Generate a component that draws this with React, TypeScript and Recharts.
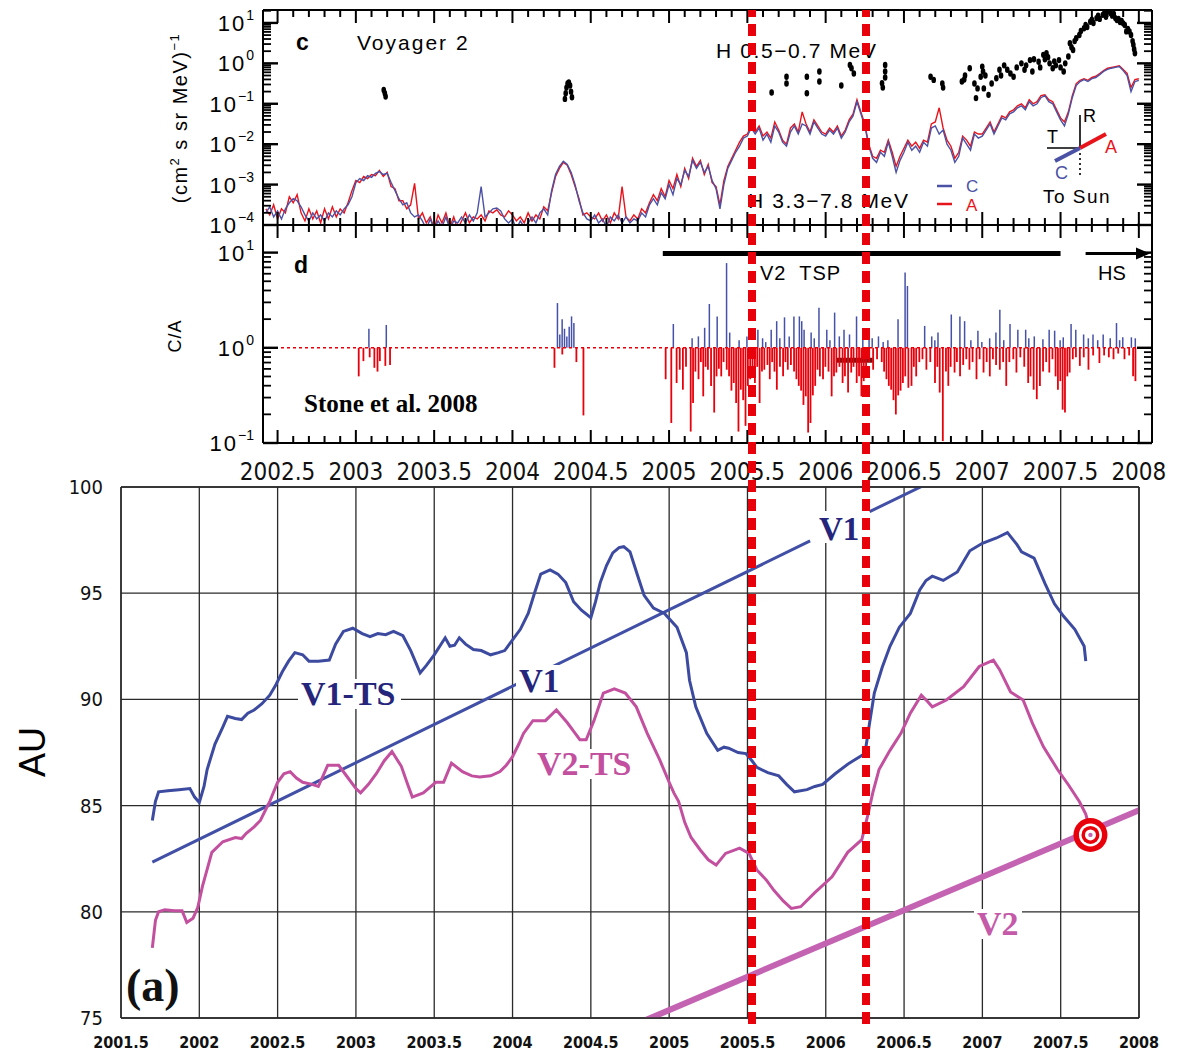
import React from 'react';
import { ComposedChart, Line, Scatter, Bar, XAxis, YAxis, ReferenceLine, CartesianGrid } from 'recharts';

const PAGE_W = 1184;
const PAGE_H = 1051;

const SANS = "'Liberation Sans', Arial, sans-serif";
const NARROW = "'Liberation Sans Narrow', 'DejaVu Sans Condensed', 'Liberation Sans', sans-serif";
const SERIF = "'Liberation Serif', 'Times New Roman', serif";

// Panel c: H 3.3-7.8 MeV intensity, log10 values, one sample every 0.025 yr from 2002.425
const SAMPLE_START = 2002.425;
const SAMPLE_STEP = 0.025;

// C telescope (blue)
const cLog = [
  // 2002.425 - 2002.975
  -3.7, -3.55, -3.8, -3.65, -3.85, -3.6, -3.45, -3.35, -3.4, -3.55, -3.75, -3.9, -3.7, -3.85, -3.75, -3.9, -3.7, -3.8, -3.65, -3.75, -3.6, -3.5, -3.3,
  // 2003
  -2.95, -2.85, -2.9, -2.78, -2.82, -2.72, -2.68, -2.75, -2.72, -2.95, -3.15, -3.35, -3.5, -3.45, -3.7, -3.8, -3.75, -3.9, -4.1, -3.85,
  -4.1, -3.9, -4.05, -3.8, -4.1, -3.9, -3.95, -3.8, -3.95, -3.75, -3.9, -3.7, -3.05, -3.8, -3.7, -3.6, -3.58, -3.65, -3.85, -3.95,
  // 2004
  -3.85, -4.1, -3.9, -4.05, -3.95, -3.8, -3.95, -3.7, -3.6, -3.75, -3.15, -2.75, -2.55, -2.42, -2.5, -2.7, -3.0, -3.4, -3.7, -3.85,
  -3.9, -3.75, -3.95, -3.85, -4.05, -3.8, -3.9, -3.75, -3.95, -3.8, -3.95, -3.85, -3.9, -3.7, -3.8, -3.5, -3.35, -3.5, -3.2, -3.35,
  // 2005
  -3.0, -3.25, -2.85, -3.0, -2.65, -2.8, -2.4, -2.6, -2.45, -2.7, -2.55, -2.9, -3.1, -3.6, -3.0, -2.6, -2.4, -2.2, -2.05, -1.85,
  -1.8, -1.6, -1.75, -1.6, -1.9, -1.75, -1.95, -1.55, -1.7, -1.95, -2.05, -1.7, -1.55, -1.75, -1.5, -1.55, -1.75, -1.45, -1.6, -1.75,
  // 2006
  -1.8, -1.65, -1.75, -1.6, -1.85, -1.7, -1.45, -1.3, -0.95, -1.25, -1.55, -2.05, -2.35, -2.45, -2.2, -2.3, -1.95, -2.3, -2.7, -2.4,
  -2.2, -1.95, -2.15, -2.05, -2.2, -1.95, -2.05, -1.6, -1.55, -1.75, -1.65, -2.0, -2.15, -2.45, -2.3, -1.85, -2.0, -2.15, -1.75, -1.85,
  // 2007
  -1.8, -1.65, -1.5, -1.75, -1.55, -1.35, -1.4, -1.25, -1.2, -1.1, -1.05, -1.15, -0.95, -1.05, -1.0, -0.85, -0.8, -0.95, -1.0, -1.2,
  -1.4, -1.55, -1.25, -0.85, -0.55, -0.45, -0.4, -0.45, -0.38, -0.35, -0.28, -0.2, -0.15, -0.12, -0.1, -0.08, -0.18, -0.3, -0.7, -0.45,
  // 2008.0
  -0.42,
];

// A telescope (red)
const aLog = [
  -3.6, -3.75, -3.5, -3.85, -3.6, -3.7, -3.3, -3.45, -3.25, -3.7, -3.9, -3.6, -3.85, -3.65, -3.95, -3.6, -3.85, -3.55, -3.8, -3.6, -3.7, -3.45, -3.15,
  -2.9, -2.95, -2.8, -2.85, -2.75, -2.78, -2.65, -2.8, -2.7, -3.05, -3.1, -3.4, -3.4, -3.6, -3.5, -2.97, -3.85, -3.7, -3.95, -3.8,
  -4.1, -3.75, -3.95, -3.7, -4.05, -3.8, -4.1, -3.9, -3.7, -3.95, -3.8, -3.85, -3.75, -3.9, -3.65, -3.7, -3.62, -3.75, -3.8, -3.65,
  -3.75, -3.9, -3.8, -3.95, -3.7, -3.9, -3.75, -3.85, -3.55, -3.65, -3.2, -2.8, -2.6, -2.45, -2.52, -2.75, -3.05, -3.35, -3.75, -3.7,
  -3.8, -3.85, -3.7, -3.9, -3.75, -3.95, -3.7, -3.85, -3.05, -3.8, -3.9, -3.75, -3.85, -3.6, -3.7, -3.45, -3.25, -3.4, -3.1, -3.3,
  -2.9, -3.1, -2.75, -3.05, -2.6, -2.85, -2.35, -2.55, -2.4, -2.75, -2.5, -2.95, -3.05, -3.5, -2.9, -2.55, -2.35, -2.15, -1.95, -1.8,
  -1.75, -1.55, -1.7, -1.55, -1.8, -1.7, -1.85, -1.45, -1.65, -1.9, -2.0, -1.6, -1.5, -1.7, -1.2, -1.5, -1.7, -1.4, -1.55, -1.7,
  -1.75, -1.6, -1.7, -1.55, -1.8, -1.65, -1.4, -1.25, -0.9, -1.2, -1.5, -2.0, -2.3, -2.35, -2.15, -2.2, -1.9, -2.2, -2.55, -2.3,
  -2.1, -1.9, -2.05, -1.95, -2.1, -1.9, -1.95, -1.5, -1.45, -1.1, -1.6, -1.9, -2.05, -2.35, -2.2, -1.8, -1.9, -2.05, -1.7, -1.75,
  -1.75, -1.6, -1.45, -1.7, -1.5, -1.3, -1.35, -1.2, -1.15, -1.05, -1.0, -1.1, -0.9, -1.0, -0.95, -0.8, -0.78, -0.9, -0.95, -1.15,
  -1.35, -1.45, -1.2, -0.8, -0.5, -0.42, -0.38, -0.42, -0.35, -0.32, -0.25, -0.18, -0.12, -0.1, -0.08, -0.06, -0.15, -0.25, -0.6, -0.4,
  -0.38,
];

// H 0.5-0.7 MeV (black), [year, log10 intensity]
const hLowDots: [number, number][] = [
  [2003.178, -0.66], [2003.185, -0.74], [2003.19, -0.82],
  [2004.335, -0.88], [2004.34, -0.74], [2004.345, -0.6], [2004.352, -0.5], [2004.36, -0.47], [2004.368, -0.55], [2004.374, -0.7], [2004.38, -0.84],
  [2005.655, -0.72], [2005.75, -0.33], [2005.75, -0.5], [2005.88, -0.33], [2005.88, -0.74], [2005.96, -0.2], [2005.96, -0.45],
  [2006.1, -0.55], [2006.155, -0.04], [2006.165, -0.12], [2006.18, -0.25], [2006.36, -0.49], [2006.365, -0.6], [2006.38, -0.04], [2006.38, -0.2], [2006.38, -0.35],
  [2006.67, -0.33], [2006.69, -0.41], [2006.745, -0.5], [2006.75, -0.6], [2006.87, -0.45], [2006.885, -0.4], [2006.89, -0.3], [2006.92, -0.12],
  [2006.95, -0.5], [2006.96, -0.86], [2006.97, -0.62], [2006.99, -0.33], [2007.0, -0.08], [2007.005, -0.2], [2007.01, -0.62], [2007.02, -0.3],
  [2007.04, -0.78], [2007.06, -0.5], [2007.09, -0.37], [2007.11, -0.16], [2007.12, -0.3], [2007.14, -0.05], [2007.16, -0.16], [2007.18, -0.25],
  [2007.2, -0.33], [2007.22, -0.1], [2007.25, 0.0], [2007.27, -0.16], [2007.28, -0.05], [2007.305, 0.08], [2007.32, -0.2], [2007.33, 0.1],
  [2007.36, 0.04], [2007.37, -0.1], [2007.39, 0.21], [2007.4, 0.1], [2007.41, 0.25], [2007.42, 0.15], [2007.43, 0.0], [2007.45, -0.12],
  [2007.46, 0.05], [2007.47, -0.05], [2007.49, 0.08], [2007.5, -0.1], [2007.52, -0.2], [2007.53, 0.0], [2007.55, 0.17], [2007.56, 0.5],
  [2007.57, 0.4], [2007.58, 0.33], [2007.59, 0.55], [2007.6, 0.62], [2007.62, 0.7], [2007.63, 0.8], [2007.65, 0.87], [2007.66, 0.95],
  [2007.67, 0.9], [2007.69, 1.03], [2007.7, 1.08], [2007.71, 1.0], [2007.73, 1.12], [2007.74, 1.18], [2007.75, 1.1], [2007.77, 1.2],
  [2007.78, 1.25], [2007.79, 1.15], [2007.8, 1.28], [2007.82, 1.24], [2007.83, 1.18], [2007.84, 1.22], [2007.85, 1.12], [2007.86, 1.07],
  [2007.87, 1.1], [2007.88, 1.02], [2007.89, 1.05], [2007.9, 0.99], [2007.91, 0.95], [2007.92, 0.79], [2007.93, 0.85], [2007.94, 0.79],
  [2007.95, 0.7], [2007.96, 0.55], [2007.965, 0.46], [2007.97, 0.35], [2007.975, 0.25],
];

// Panel d: log10(C/A) spikes above 1 (blue) and below 1 (red)
const caHigh: [number, number][] = [
  [2003.086, 0.2], [2003.197, 0.24],
  [2004.29, 0.47], [2004.305, 0.14], [2004.32, 0.3], [2004.335, 0.2], [2004.35, 0.12], [2004.365, 0.22], [2004.38, 0.33], [2004.395, 0.26],
  [2005.03, 0.25], [2005.15, 0.1], [2005.19, 0.12], [2005.23, 0.21], [2005.26, 0.46], [2005.31, 0.33], [2005.37, 0.89], [2005.39, 0.16],
  [2005.45, 0.08], [2005.5, 0.12], [2005.57, 0.19], [2005.6, 0.1], [2005.62, 0.06], [2005.655, 0.19], [2005.69, 0.28], [2005.71, 0.1],
  [2005.74, 0.32], [2005.77, 0.12], [2005.8, 0.33], [2005.835, 0.33], [2005.85, 0.28], [2005.865, 0.19], [2005.91, 0.16], [2005.93, 0.1],
  [2005.96, 0.42], [2006.01, 0.19], [2006.03, 0.08], [2006.06, 0.37], [2006.09, 0.12], [2006.12, 0.19], [2006.155, 0.14], [2006.2, 0.33],
  [2006.24, 0.09], [2006.28, 0.19], [2006.3, 0.1], [2006.34, 0.12], [2006.37, 0.06], [2006.4, 0.08], [2006.465, 0.3], [2006.51, 0.79],
  [2006.525, 0.65], [2006.635, 0.23], [2006.68, 0.12], [2006.7, 0.08], [2006.72, 0.16], [2006.805, 0.35], [2006.86, 0.33], [2006.89, 0.28],
  [2006.93, 0.08], [2006.975, 0.18], [2007.0, 0.06], [2007.05, 0.1], [2007.09, 0.16], [2007.115, 0.4], [2007.14, 0.08], [2007.18, 0.25],
  [2007.23, 0.19], [2007.28, 0.19], [2007.3, 0.1], [2007.335, 0.12], [2007.39, 0.09], [2007.43, 0.19], [2007.465, 0.18], [2007.5, 0.08],
  [2007.52, 0.11], [2007.57, 0.25], [2007.6, 0.19], [2007.65, 0.14], [2007.68, 0.1], [2007.71, 0.14], [2007.74, 0.08], [2007.775, 0.14],
  [2007.82, 0.1], [2007.86, 0.26], [2007.88, 0.08], [2007.9, 0.11], [2007.955, 0.11], [2007.98, 0.1],
];

const caLow: [number, number][] = [
  [2003.02, -0.3], [2003.05, -0.14], [2003.09, -0.1], [2003.12, -0.21], [2003.14, -0.25], [2003.155, -0.14], [2003.19, -0.19], [2003.22, -0.18],
  [2004.27, -0.21], [2004.32, -0.07], [2004.41, -0.15], [2004.455, -0.71],
  [2004.98, -0.33], [2005.016, -0.79], [2005.05, -0.37], [2005.07, -0.23], [2005.09, -0.44], [2005.11, -0.2], [2005.14, -0.88], [2005.155, -0.58],
  [2005.17, -0.25], [2005.19, -0.33], [2005.205, -0.15], [2005.22, -0.51], [2005.235, -0.2], [2005.25, -0.23], [2005.27, -0.4], [2005.29, -0.68],
  [2005.305, -0.3], [2005.32, -0.22], [2005.335, -0.3], [2005.35, -0.15], [2005.37, -0.23], [2005.385, -0.3], [2005.4, -0.45], [2005.415, -0.37],
  [2005.43, -0.58], [2005.445, -0.88], [2005.46, -0.44], [2005.475, -0.55], [2005.49, -0.82], [2005.505, -0.4], [2005.52, -0.33], [2005.535, -0.25],
  [2005.55, -0.37], [2005.565, -0.2], [2005.58, -0.58], [2005.595, -0.25], [2005.61, -0.23], [2005.63, -0.18], [2005.645, -0.33], [2005.66, -0.15],
  [2005.675, -0.25], [2005.69, -0.44], [2005.71, -0.2], [2005.73, -0.3], [2005.745, -0.15], [2005.76, -0.23], [2005.78, -0.18], [2005.8, -0.25],
  [2005.815, -0.33], [2005.83, -0.4], [2005.845, -0.45], [2005.86, -0.6], [2005.875, -0.51], [2005.89, -0.89], [2005.905, -0.79], [2005.92, -0.5],
  [2005.935, -0.4], [2005.95, -0.23], [2005.965, -0.3], [2005.985, -0.33], [2006.0, -0.2], [2006.02, -0.25], [2006.04, -0.51], [2006.055, -0.3],
  [2006.07, -0.26], [2006.09, -0.2], [2006.11, -0.37], [2006.125, -0.3], [2006.145, -0.47], [2006.165, -0.26], [2006.18, -0.2], [2006.2, -0.37],
  [2006.215, -0.3], [2006.23, -0.51], [2006.245, -0.35], [2006.26, -0.3], [2006.28, -0.15], [2006.305, -0.23], [2006.33, -0.12], [2006.36, -0.15],
  [2006.375, -0.25], [2006.39, -0.33], [2006.405, -0.4], [2006.42, -0.44], [2006.435, -0.55], [2006.45, -0.7], [2006.465, -0.5], [2006.48, -0.45],
  [2006.495, -0.37], [2006.51, -0.3], [2006.53, -0.42], [2006.55, -0.4], [2006.565, -0.2], [2006.58, -0.3], [2006.6, -0.15], [2006.62, -0.12],
  [2006.645, -0.23], [2006.67, -0.15], [2006.7, -0.37], [2006.715, -0.2], [2006.73, -0.47], [2006.75, -0.98], [2006.77, -0.25], [2006.785, -0.4],
  [2006.8, -0.2], [2006.825, -0.26], [2006.84, -0.15], [2006.86, -0.3], [2006.88, -0.18], [2006.9, -0.12], [2006.92, -0.23], [2006.94, -0.15],
  [2006.965, -0.33], [2006.985, -0.12], [2007.01, -0.26], [2007.03, -0.15], [2007.05, -0.3], [2007.07, -0.12], [2007.09, -0.18], [2007.114, -0.23],
  [2007.135, -0.15], [2007.155, -0.4], [2007.175, -0.15], [2007.2, -0.12], [2007.22, -0.26], [2007.245, -0.1], [2007.27, -0.2], [2007.295, -0.37],
  [2007.31, -0.3], [2007.33, -0.44], [2007.35, -0.54], [2007.37, -0.4], [2007.39, -0.25], [2007.41, -0.15], [2007.43, -0.26], [2007.45, -0.12],
  [2007.47, -0.3], [2007.485, -0.44], [2007.5, -0.35], [2007.515, -0.65], [2007.53, -0.68], [2007.545, -0.3], [2007.56, -0.26], [2007.58, -0.12],
  [2007.6, -0.1], [2007.625, -0.19], [2007.65, -0.1], [2007.68, -0.23], [2007.71, -0.08], [2007.75, -0.16], [2007.78, -0.08], [2007.81, -0.1],
  [2007.84, -0.12], [2007.87, -0.06], [2007.91, -0.12], [2007.94, -0.08], [2007.965, -0.3], [2007.98, -0.35],
];

// Panel a: termination shock and spacecraft distances, [year, AU]
const v1ts: [number, number][] = [
  [2001.7, 84.3], [2001.72, 85.2], [2001.74, 85.65], [2001.8, 85.7], [2001.87, 85.75], [2001.94, 85.8], [2001.97, 85.4], [2002.0, 85.15],
  [2002.03, 85.9], [2002.05, 86.7], [2002.1, 87.9], [2002.15, 88.7], [2002.18, 89.2], [2002.23, 89.1], [2002.27, 89.05], [2002.31, 89.35],
  [2002.35, 89.5], [2002.4, 89.8], [2002.45, 90.2], [2002.49, 90.7], [2002.53, 91.3], [2002.57, 91.8], [2002.61, 92.2], [2002.66, 92.1],
  [2002.7, 91.8], [2002.76, 91.8], [2002.83, 91.85], [2002.87, 92.6], [2002.92, 93.2], [2002.98, 93.35], [2003.04, 93.1], [2003.09, 92.95],
  [2003.14, 93.1], [2003.19, 93.05], [2003.24, 93.2], [2003.3, 93.0], [2003.35, 92.3], [2003.41, 91.25], [2003.45, 91.6], [2003.5, 92.1],
  [2003.57, 92.9], [2003.6, 92.5], [2003.63, 92.55], [2003.66, 92.9], [2003.7, 92.6], [2003.75, 92.35], [2003.8, 92.3], [2003.86, 92.1],
  [2003.91, 92.2], [2003.95, 92.3], [2004.0, 92.8], [2004.05, 93.3], [2004.1, 94.05], [2004.14, 95.0], [2004.18, 95.9], [2004.24, 96.1],
  [2004.29, 95.9], [2004.34, 95.5], [2004.39, 94.6], [2004.44, 94.2], [2004.5, 93.85], [2004.53, 94.6], [2004.56, 95.5], [2004.6, 96.3],
  [2004.64, 96.9], [2004.68, 97.15], [2004.71, 97.19], [2004.75, 96.95], [2004.8, 95.8], [2004.84, 94.9], [2004.9, 94.3], [2004.97, 94.05],
  [2005.05, 93.4], [2005.11, 92.2], [2005.13, 90.9], [2005.17, 89.65], [2005.24, 88.4], [2005.31, 87.6], [2005.35, 87.75], [2005.38, 87.7],
  [2005.44, 87.5], [2005.49, 87.45], [2005.53, 87.1], [2005.56, 86.8], [2005.63, 86.55], [2005.7, 86.4], [2005.75, 86.0], [2005.8, 85.65],
  [2005.88, 85.75], [2005.93, 85.9], [2005.98, 86.0], [2006.06, 86.5], [2006.15, 87.0], [2006.25, 87.45], [2006.28, 88.9], [2006.31, 90.3],
  [2006.36, 91.5], [2006.41, 92.5], [2006.47, 93.4], [2006.54, 94.05], [2006.6, 95.15], [2006.64, 95.6], [2006.68, 95.8], [2006.75, 95.6],
  [2006.84, 96.0], [2006.92, 97.0], [2007.0, 97.35], [2007.09, 97.6], [2007.16, 97.85], [2007.22, 97.3], [2007.25, 96.95], [2007.33, 96.65],
  [2007.4, 95.45], [2007.46, 94.5], [2007.52, 93.9], [2007.59, 93.3], [2007.65, 92.5], [2007.66, 91.8],
];

const v2ts: [number, number][] = [
  [2001.7, 78.3], [2001.72, 79.6], [2001.74, 80.0], [2001.78, 80.1], [2001.84, 80.05], [2001.89, 80.05], [2001.92, 79.5], [2001.96, 79.7],
  [2001.99, 80.2], [2002.02, 81.2], [2002.05, 82.0], [2002.08, 82.8], [2002.15, 83.3], [2002.23, 83.5], [2002.27, 83.45], [2002.3, 83.7],
  [2002.35, 84.0], [2002.39, 84.3], [2002.45, 85.2], [2002.5, 86.1], [2002.54, 86.5], [2002.58, 86.6], [2002.62, 86.3], [2002.66, 86.1],
  [2002.72, 86.0], [2002.76, 85.9], [2002.82, 86.9], [2002.89, 86.9], [2002.95, 86.3], [2003.0, 85.8], [2003.03, 85.6], [2003.08, 86.0],
  [2003.13, 86.5], [2003.18, 87.1], [2003.23, 87.55], [2003.29, 86.85], [2003.33, 86.0], [2003.36, 85.4], [2003.43, 85.6], [2003.51, 86.1],
  [2003.56, 86.1], [2003.61, 87.0], [2003.68, 86.6], [2003.74, 86.4], [2003.79, 86.35], [2003.86, 86.4], [2003.92, 86.6], [2003.96, 86.9],
  [2004.0, 87.3], [2004.04, 87.9], [2004.07, 88.4], [2004.13, 89.0], [2004.21, 89.0], [2004.28, 89.5], [2004.35, 88.9], [2004.4, 88.4],
  [2004.43, 88.1], [2004.47, 88.1], [2004.52, 89.0], [2004.58, 90.3], [2004.65, 90.5], [2004.72, 90.3], [2004.79, 89.65], [2004.86, 88.4],
  [2004.94, 87.15], [2005.0, 86.1], [2005.03, 85.6], [2005.06, 85.2], [2005.1, 84.2], [2005.14, 83.5], [2005.2, 82.9], [2005.25, 82.45],
  [2005.3, 82.2], [2005.36, 82.75], [2005.45, 83.0], [2005.51, 82.75], [2005.56, 81.97], [2005.62, 81.5], [2005.67, 81.0], [2005.73, 80.5],
  [2005.78, 80.16], [2005.84, 80.24], [2005.93, 80.9], [2006.04, 81.65], [2006.14, 82.8], [2006.23, 83.4], [2006.27, 84.6], [2006.3, 85.6],
  [2006.34, 86.7], [2006.41, 87.6], [2006.48, 88.4], [2006.54, 89.35], [2006.61, 90.2], [2006.65, 89.9], [2006.68, 89.65], [2006.77, 89.97],
  [2006.88, 90.6], [2006.98, 91.55], [2007.07, 91.85], [2007.11, 91.4], [2007.18, 90.35], [2007.26, 89.97], [2007.32, 88.87], [2007.39, 87.77],
  [2007.48, 86.7], [2007.55, 85.97], [2007.62, 85.18], [2007.66, 84.6], [2007.69, 83.8],
];

const v1Path: [number, number | null][] = [[2001.7, 82.34], [2005.9, 97.46], [2006.09, null], [2006.28, 98.84], [2006.66, 100.2]];
const v2Path: [number, number][] = [[2004.85, 74.9], [2008.03, 84.88]];
const v2Now: [number, number][] = [[2007.69, 83.62]];

const TSP_SPAN = [2004.96, 2007.5];
const HS_SPAN = [2007.66, 2008.02];
const DARK_MARK = [2006.07, 2006.3];
const TS_CROSSINGS = [2005.529, 2006.257];

const TOP_DOMAIN: [number, number] = [2002.407, 2008.084];
const BOT_DOMAIN: [number, number] = [2001.5, 2008];
const halfYears = [2001.5, 2002, 2002.5, 2003, 2003.5, 2004, 2004.5, 2005, 2005.5, 2006, 2006.5, 2007, 2007.5, 2008];
const auTicks = [75, 80, 85, 90, 95, 100];

const tenthYears: number[] = [];
for (let i = 0; i <= 55; i++) tenthYears.push(Math.round((2002.5 + i * 0.1) * 10) / 10);

const logTicks = (lo: number, hi: number, top: number) => {
  const out: number[] = [];
  for (let n = lo; n <= hi; n++) {
    for (let k = 1; k <= 9; k++) {
      const v = n + Math.log10(k);
      if (v <= top) out.push(v);
    }
  }
  return out;
};
const cTicks = logTicks(-4, 1, 1.32);
const dTicks = logTicks(-1, 1, 1.28);

const toPts = (arr: [number, number | null][]) => arr.map(([t, v]) => ({ t, v }));
const sampled = (vals: number[]) => vals.map((v, i) => ({ t: +(SAMPLE_START + i * SAMPLE_STEP).toFixed(3), v }));

const cData = sampled(cLog);
const aData = sampled(aLog);

const isHalf = (v: number) => Math.abs(v * 2 - Math.round(v * 2)) < 1e-6;
const isDecade = (v: number) => Math.abs(v - Math.round(v)) < 1e-6;
const expText = (n: number) => (n < 0 ? '\u2212' + -n : String(n));

function YearTick(props: any) {
  const { x, y, payload, dir, label } = props;
  const major = isHalf(payload.value);
  return (
    <g>
      <line x1={x} x2={x} y1={y} y2={y + dir * (major ? 13 : 7)} stroke="#000" strokeWidth={2} />
      {label && major && (
        <text x={x} y={y + 37} textAnchor="middle" fontFamily={NARROW} fontSize={24} fill="#111">
          {payload.value}
        </text>
      )}
    </g>
  );
}

function LogTick(props: any) {
  const { x, y, payload, dir, label } = props;
  const v = payload.value;
  const major = isDecade(v);
  return (
    <g>
      <line x1={x} x2={x + dir * (major ? 15 : 8)} y1={y} y2={y} stroke="#000" strokeWidth={major ? 2.4 : 1.8} />
      {label && major && (
        <text x={x - 9} y={y + 8} textAnchor="end" fontFamily={SANS} fontSize={22} letterSpacing={2} fill="#000">
          10<tspan dy={-11} fontSize={14} letterSpacing={0}>{expText(Math.round(v))}</tspan>
        </text>
      )}
    </g>
  );
}

const frame = { stroke: '#000', strokeWidth: 2 };
const abs: React.CSSProperties = { position: 'absolute', left: 0, top: 0 };
// axes are 1px thick so that they get drawn; margins are 1px smaller to keep the plot box in place
const AX = 1;

function PanelC() {
  return (
    <div style={abs}>
      <ComposedChart width={PAGE_W} height={240} margin={{ top: 10 - AX, right: 32 - AX, bottom: 15 - AX, left: 263 - AX }}>
        <XAxis type="number" dataKey="t" domain={TOP_DOMAIN} allowDataOverflow ticks={tenthYears} interval={0} height={AX}
          tickLine={false} tickSize={0} tickMargin={0} axisLine={frame} tick={(p: any) => <YearTick {...p} dir={-1} />} />
        <XAxis xAxisId="top" orientation="top" type="number" dataKey="t" domain={TOP_DOMAIN} allowDataOverflow ticks={tenthYears}
          interval={0} height={AX} tickLine={false} tickSize={0} tickMargin={0} axisLine={frame} tick={(p: any) => <YearTick {...p} dir={1} />} />
        <YAxis type="number" dataKey="v" domain={[-4, 1.32]} allowDataOverflow ticks={cTicks} interval={0} width={AX}
          tickLine={false} tickSize={0} tickMargin={0} axisLine={frame} tick={(p: any) => <LogTick {...p} dir={1} label />} />
        <YAxis yAxisId="r" orientation="right" type="number" domain={[-4, 1.32]} allowDataOverflow ticks={cTicks} interval={0} width={AX}
          tickLine={false} tickSize={0} tickMargin={0} axisLine={frame} tick={(p: any) => <LogTick {...p} dir={-1} />} />
        <Line data={aData} dataKey="v" stroke="#e8141c" strokeWidth={1.4} dot={false} isAnimationActive={false} />
        <Line data={cData} dataKey="v" stroke="#4b52a6" strokeWidth={1.4} dot={false} isAnimationActive={false} />
        <Scatter data={toPts(hLowDots)} dataKey="v" fill="#000" isAnimationActive={false}
          shape={(p: any) => <ellipse cx={p.cx} cy={p.cy} rx={2.3} ry={3.2} fill="#000" />} />
      </ComposedChart>
    </div>
  );
}

function PanelD() {
  return (
    <>
      <div style={abs}>
        <ComposedChart width={PAGE_W} height={500} margin={{ top: 225 - AX, right: 32 - AX, bottom: 57 - AX, left: 263 - AX }} data={toPts(caHigh)}>
          <XAxis type="number" dataKey="t" domain={TOP_DOMAIN} allowDataOverflow ticks={tenthYears} interval={0} height={AX}
            tickLine={false} tickSize={0} tickMargin={0} axisLine={frame} tick={(p: any) => <YearTick {...p} dir={-1} label />} />
          <XAxis xAxisId="top" orientation="top" type="number" dataKey="t" domain={TOP_DOMAIN} allowDataOverflow ticks={tenthYears}
            interval={0} height={AX} tickLine={false} tickSize={0} tickMargin={0} axisLine={frame} tick={(p: any) => <YearTick {...p} dir={1} />} />
          <YAxis type="number" dataKey="v" domain={[-1, 1.29]} allowDataOverflow ticks={dTicks} interval={0} width={AX}
            tickLine={false} tickSize={0} tickMargin={0} axisLine={frame} tick={(p: any) => <LogTick {...p} dir={1} label />} />
          <YAxis yAxisId="r" orientation="right" type="number" domain={[-1, 1.29]} allowDataOverflow ticks={dTicks} interval={0} width={AX}
            tickLine={false} tickSize={0} tickMargin={0} axisLine={frame} tick={(p: any) => <LogTick {...p} dir={-1} />} />
          <Bar dataKey="v" fill="#4652a8" barSize={1.5} isAnimationActive={false} />
          <ReferenceLine y={0} stroke="#e8000b" strokeWidth={1.6} strokeDasharray="3 3" />
          <ReferenceLine segment={[{ x: TSP_SPAN[0], y: 0.99 }, { x: TSP_SPAN[1], y: 0.99 }]} stroke="#000" strokeWidth={5} />
          <ReferenceLine segment={[{ x: HS_SPAN[0], y: 0.99 }, { x: HS_SPAN[1], y: 0.99 }]} stroke="#000" strokeWidth={3} ifOverflow="visible" />
          <ReferenceLine segment={[{ x: DARK_MARK[0], y: -0.13 }, { x: DARK_MARK[1], y: -0.13 }]} stroke="#6e1414" strokeWidth={5} />
          <Scatter data={[{ t: HS_SPAN[1], v: 0.99 }]} dataKey="v" isAnimationActive={false}
            shape={(p: any) => <path d={`M${p.cx - 6},${p.cy - 6} L${p.cx + 8},${p.cy} L${p.cx - 6},${p.cy + 6} Z`} fill="#000" />} />
        </ComposedChart>
      </div>
      <div style={abs}>
        <ComposedChart width={PAGE_W} height={500} margin={{ top: 225, right: 32, bottom: 57, left: 263 }} data={toPts(caLow)}>
          <XAxis type="number" dataKey="t" domain={TOP_DOMAIN} allowDataOverflow hide />
          <YAxis type="number" dataKey="v" domain={[-1, 1.29]} allowDataOverflow hide />
          <Bar dataKey="v" fill="#e8000b" barSize={1.8} isAnimationActive={false} />
        </ComposedChart>
      </div>
    </>
  );
}

function PanelA() {
  const gridStroke = { stroke: '#2a2a2a', strokeWidth: 1.5 };
  return (
    <div style={abs}>
      <ComposedChart width={PAGE_W} height={PAGE_H} margin={{ top: 487 - AX, right: 45 - AX, bottom: 33 - AX, left: 121 - AX }}>
        <CartesianGrid stroke="#2a2a2a" strokeWidth={1.3} />
        <XAxis type="number" dataKey="t" domain={BOT_DOMAIN} allowDataOverflow ticks={halfYears} interval={0} height={AX}
          tickLine={false} tickSize={0} tickMargin={0} axisLine={gridStroke}
          tick={(p: any) => (
            <text x={p.x} y={p.y + 30} textAnchor="middle" fontFamily={NARROW} fontWeight="bold" fontSize={16} fill="#111">
              {p.payload.value}
            </text>
          )} />
        <XAxis xAxisId="top" orientation="top" type="number" domain={BOT_DOMAIN} allowDataOverflow height={AX} tick={false} tickLine={false} axisLine={gridStroke} />
        <YAxis type="number" dataKey="v" domain={[75, 100]} allowDataOverflow ticks={auTicks} interval={0} width={AX}
          tickLine={false} tickSize={0} tickMargin={0} axisLine={gridStroke}
          tick={(p: any) => (
            <text x={p.x - 18} y={p.y} dy={7} textAnchor="end" fontFamily={NARROW} fontSize={20} fill="#111">
              {p.payload.value}
            </text>
          )} />
        <YAxis yAxisId="r" orientation="right" type="number" domain={[75, 100]} allowDataOverflow width={AX} tick={false} tickLine={false} axisLine={gridStroke} />
        <Line data={toPts(v2Path)} dataKey="v" stroke="#c563b3" strokeWidth={6} dot={false} isAnimationActive={false} />
        <Line data={toPts(v1Path)} dataKey="v" stroke="#4150a6" strokeWidth={3} dot={false} connectNulls={false} isAnimationActive={false} />
        <Line data={toPts(v1ts)} dataKey="v" stroke="#3c4aa0" strokeWidth={3} dot={false} isAnimationActive={false} />
        <Line data={toPts(v2ts)} dataKey="v" stroke="#c2509f" strokeWidth={3} dot={false} isAnimationActive={false} />
        <Scatter data={toPts(v2Now)} dataKey="v" isAnimationActive={false}
          shape={(p: any) => (
            <g>
              <circle cx={p.cx} cy={p.cy} r={17} fill="#e8000b" />
              <circle cx={p.cx} cy={p.cy} r={11.5} fill="#fff" />
              <circle cx={p.cx} cy={p.cy} r={9} fill="#e8000b" />
              <circle cx={p.cx} cy={p.cy} r={5.5} fill="#fff" />
              <circle cx={p.cx} cy={p.cy} r={2.2} fill="#c563b3" />
            </g>
          )} />
      </ComposedChart>
    </div>
  );
}

function Annotations() {
  const blue = '#4b52a6';
  const red = '#e8141c';
  const navy = '#25257c';
  const magenta = '#c2509f';
  return (
    <svg width={PAGE_W} height={PAGE_H} style={{ ...abs, pointerEvents: 'none' }}>
      {/* panel c */}
      <text x={296} y={50} fontFamily={SANS} fontWeight="bold" fontSize={23}>c</text>
      <text x={357} y={50} fontFamily={SANS} fontSize={21} letterSpacing={2}>Voyager 2</text>
      <text x={716} y={58} fontFamily={SANS} fontSize={21} letterSpacing={1.6}>H 0.5{'\u2212'}0.7 MeV</text>
      <text x={748} y={208} fontFamily={SANS} fontSize={21} letterSpacing={1.6}>H 3.3{'\u2212'}7.8 MeV</text>
      <line x1={937} x2={952} y1={186} y2={186} stroke={blue} strokeWidth={2.5} />
      <text x={966} y={192} fontFamily={SANS} fontSize={17} fill={blue}>C</text>
      <line x1={937} x2={952} y1={204} y2={204} stroke={red} strokeWidth={2.5} />
      <text x={966} y={211} fontFamily={SANS} fontSize={17} fill={red}>A</text>
      <line x1={1047} x2={1080} y1={148} y2={148} stroke="#000" strokeWidth={1.6} />
      <line x1={1080} x2={1080} y1={115} y2={148} stroke="#000" strokeWidth={1.6} />
      <line x1={1080} x2={1080} y1={153} y2={178} stroke="#000" strokeWidth={1.6} strokeDasharray="2 3" />
      <line x1={1080} x2={1106} y1={148} y2={134} stroke={red} strokeWidth={4} />
      <line x1={1055} x2={1080} y1={161} y2={148} stroke={blue} strokeWidth={4} />
      <text x={1083} y={122} fontFamily={SANS} fontSize={18}>R</text>
      <text x={1047} y={143} fontFamily={SANS} fontSize={18}>T</text>
      <text x={1105} y={153} fontFamily={SANS} fontSize={18} fill={red}>A</text>
      <text x={1055} y={179} fontFamily={SANS} fontSize={18} fill={blue}>C</text>
      <text x={1043} y={203} fontFamily={SANS} fontSize={19} letterSpacing={1.5}>To Sun</text>
      <text transform="translate(187,118) rotate(-90)" textAnchor="middle" fontFamily={SANS} fontSize={20} letterSpacing={1.5}>
        (cm<tspan dy={-8} fontSize={13}>2</tspan><tspan dy={8}> s sr MeV)</tspan><tspan dy={-8} fontSize={13}>{'\u2212'}1</tspan>
      </text>

      {/* panel d */}
      <text x={294} y={273} fontFamily={SANS} fontWeight="bold" fontSize={23}>d</text>
      <text transform="translate(181,336) rotate(-90)" textAnchor="middle" fontFamily={SANS} fontSize={18} letterSpacing={1}>C/A</text>
      <text x={760} y={280} fontFamily={SANS} fontSize={20} letterSpacing={1} style={{ whiteSpace: 'pre' }}>V2  TSP</text>
      <text x={1098} y={280} fontFamily={SANS} fontSize={20}>HS</text>
      <text x={304} y={412} fontFamily={SERIF} fontWeight="bold" fontSize={25}>Stone et al. 2008</text>

      {/* panel a */}
      <text transform="translate(45,752) rotate(-90)" textAnchor="middle" fontFamily={SANS} fontSize={36}>AU</text>
      <rect x={298} y={679} width={103} height={30} fill="#fff" />
      <text x={301} y={705} fontFamily={SERIF} fontWeight="bold" fontSize={34} fill={navy}>V1-TS</text>
      <rect x={516} y={665} width={48} height={30} fill="#fff" />
      <text x={519} y={692} fontFamily={SERIF} fontWeight="bold" fontSize={33} fill={navy}>V1</text>
      <rect x={816} y={511} width={48} height={32} fill="#fff" />
      <text x={819} y={540} fontFamily={SERIF} fontWeight="bold" fontSize={33} fill={navy}>V1</text>
      <rect x={534} y={749} width={102} height={30} fill="#fff" />
      <text x={537} y={775} fontFamily={SERIF} fontWeight="bold" fontSize={34} fill={magenta}>V2-TS</text>
      <rect x={974} y={909} width={48} height={30} fill="#fff" />
      <text x={977} y={935} fontFamily={SERIF} fontWeight="bold" fontSize={34} fill="#c45aa8">V2</text>
      <text x={126} y={1001} fontFamily={SERIF} fontWeight="bold" fontSize={46} fill="#111">(a)</text>
    </svg>
  );
}

export default function App() {
  return (
    <div style={{ position: 'absolute', left: 0, top: 0, width: PAGE_W, height: PAGE_H, background: '#fff', overflow: 'hidden' }}>
      <PanelC />
      <PanelD />
      <PanelA />
      <Annotations />
      <div style={{ ...abs, pointerEvents: 'none' }}>
        <ComposedChart width={PAGE_W} height={PAGE_H} margin={{ top: 10, right: 45, bottom: 27, left: 121 }}
          data={[{ t: BOT_DOMAIN[0], v: 0 }, { t: BOT_DOMAIN[1], v: 1 }]}>
          <XAxis type="number" dataKey="t" domain={BOT_DOMAIN} hide />
          <YAxis type="number" dataKey="v" domain={[0, 1]} hide />
          {TS_CROSSINGS.map((x) => (
            <ReferenceLine key={x} x={x} stroke="#e8000b" strokeWidth={8} strokeDasharray="12 7" />
          ))}
        </ComposedChart>
      </div>
    </div>
  );
}
